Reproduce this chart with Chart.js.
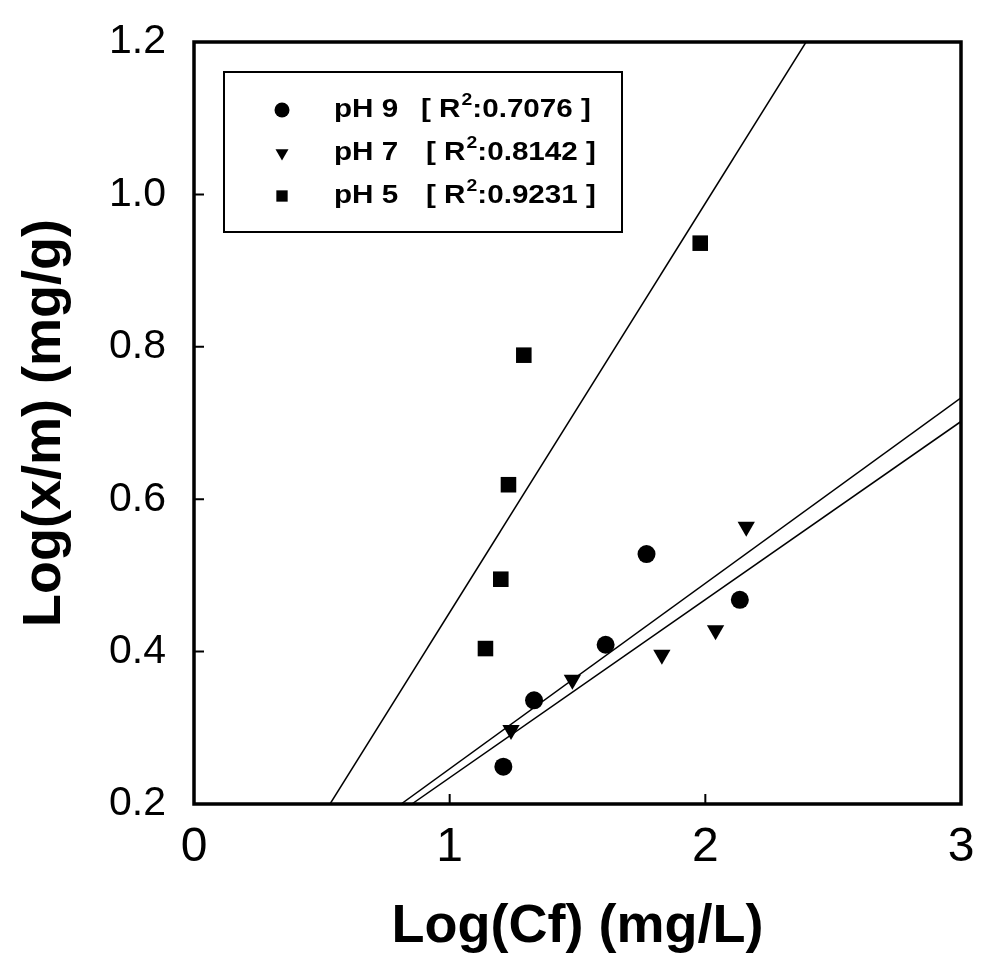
<!DOCTYPE html>
<html lang="en">
<head>
<meta charset="UTF-8">
<title>Log(x/m) vs Log(Cf)</title>
<script src="https://cdn.jsdelivr.net/npm/chart.js"></script>
<style>
  body { margin: 0; background: #fff; }
</style>
</head>
<body>
<canvas id="grafico" width="997" height="956"></canvas>
<script>
// series
const seriesNames = ['pH 9', 'pH 7', 'pH 5'];
const r2Values = ['0.7076', '0.8142', '0.9231'];

const ph9X = [1.21, 1.33, 1.61, 1.77, 2.135];
const ph9Y = [0.249, 0.336, 0.409, 0.528, 0.468];
const ph7X = [1.24, 1.48, 1.83, 2.04, 2.16];
const ph7Y = [0.297, 0.363, 0.396, 0.428, 0.564];
const ph5X = [1.14, 1.20, 1.23, 1.29, 1.98];
const ph5Y = [0.404, 0.495, 0.619, 0.789, 0.936];

// fitted lines (end points)
const fit9X = [0.81, 3];
const fit9Y = [0.2, 0.733];
const fit7X = [0.852, 3];
const fit7Y = [0.2, 0.702];
const fit5X = [0.532, 2.394];
const fit5Y = [0.2, 1.2];

const xTickValues = [0, 1, 2, 3];
const yTickValues = [0.2, 0.4, 0.6, 0.8, 1.0, 1.2];

const FONT = '"Liberation Sans", Arial, sans-serif';

function pts(xs, ys) {
  return xs.map((x, i) => ({ x: x, y: ys[i] }));
}

const estilos = ['circle', 'triangle', 'rect'];
const rotacoes = [0, 180, 0];
const raios = [9, 10, 11];

// text a bit wider than the font, like the scanned legend
function textoLargo(ctx, txt, x, y) {
  ctx.save();
  ctx.translate(x, y);
  ctx.scale(1.14, 1);
  ctx.fillText(txt, 0, 0);
  ctx.restore();
  return ctx.measureText(txt).width * 1.14;
}

// frame, inward ticks and the boxed legend
const moldura = {
  id: 'moldura',
  afterDatasetsDraw(chart) {
    const { ctx, chartArea: a, scales: { x, y } } = chart;
    ctx.save();
    ctx.strokeStyle = '#000';
    ctx.lineWidth = 2;
    ctx.beginPath();
    xTickValues.forEach(v => {
      const px = x.getPixelForValue(v);
      ctx.moveTo(px, a.bottom);
      ctx.lineTo(px, a.bottom - 10);
    });
    yTickValues.forEach(v => {
      const py = y.getPixelForValue(v);
      ctx.moveTo(a.left, py);
      ctx.lineTo(a.left + 10, py);
    });
    ctx.stroke();
    ctx.lineWidth = 3.5;
    ctx.strokeRect(a.left, a.top, a.right - a.left, a.bottom - a.top);

    // legend
    const bx = 224, by = 72, bw = 398, bh = 160;
    ctx.fillStyle = '#fff';
    ctx.fillRect(bx, by, bw, bh);
    ctx.lineWidth = 2;
    ctx.strokeRect(bx, by, bw, bh);
    ctx.fillStyle = '#000';
    ctx.textBaseline = 'middle';
    seriesNames.forEach((nome, i) => {
      const ry = 110 + i * 43;
      Chart.helpers.drawPoint(ctx, {
        pointStyle: estilos[i], rotation: rotacoes[i], radius: i === 2 ? 8 : 7.5, borderWidth: 0
      }, 282, ry);
      ctx.font = 'bold 26px ' + FONT;
      textoLargo(ctx, nome, 334, ry);
      let tx = i === 0 ? 421 : 426;
      tx += textoLargo(ctx, '[ R', tx, ry);
      ctx.font = 'bold 17px ' + FONT;
      tx += textoLargo(ctx, '2', tx + 1, ry - 10) + 1;
      ctx.font = 'bold 26px ' + FONT;
      textoLargo(ctx, ':' + r2Values[i] + ' ]', tx, ry);
    });
    ctx.restore();
  }
};

const pontos = [
  pts(ph9X, ph9Y),
  pts(ph7X, ph7Y),
  pts(ph5X, ph5Y)
].map((d, i) => ({
  label: seriesNames[i],
  data: d,
  showLine: false,
  pointStyle: estilos[i],
  rotation: rotacoes[i],
  pointRadius: raios[i],
  pointBackgroundColor: '#000',
  pointBorderWidth: 0
}));

const retas = [pts(fit9X, fit9Y), pts(fit7X, fit7Y), pts(fit5X, fit5Y)].map(d => ({
  data: d,
  showLine: true,
  borderColor: '#000',
  borderWidth: 1.5,
  pointRadius: 0,
  fill: false
}));

new Chart(document.getElementById('grafico'), {
  type: 'scatter',
  data: { datasets: retas.concat(pontos) },
  options: {
    responsive: false,
    animation: false,
    layout: { padding: { top: 42, right: 36, left: 0, bottom: 0 } },
    plugins: { legend: { display: false }, tooltip: { enabled: false } },
    scales: {
      x: {
        type: 'linear', min: 0, max: 3,
        grid: { display: false, drawTicks: false },
        border: { display: false },
        ticks: { stepSize: 1, color: '#000', padding: 20, font: { family: FONT, size: 48, lineHeight: 1 } },
        title: { display: true, text: 'Log(Cf) (mg/L)', color: '#000',
                 font: { family: FONT, size: 54, weight: 'bold', lineHeight: 1 }, padding: { top: 0, bottom: 2 } },
        afterFit(s) { s.height = 152; }
      },
      y: {
        type: 'linear', min: 0.2, max: 1.2,
        grid: { display: false, drawTicks: false },
        border: { display: false },
        ticks: { stepSize: 0.2, color: '#000', padding: 28, font: { family: FONT, size: 41, lineHeight: 0.6 },
                 callback: v => Number(v).toFixed(1) },
        title: { display: true, text: 'Log(x/m) (mg/g)', color: '#000',
                 font: { family: FONT, size: 54, weight: 'bold', lineHeight: 1 }, padding: { top: 18, bottom: 0 } },
        afterFit(s) { s.width = 194; }
      }
    }
  },
  plugins: [moldura]
});
</script>
</body>
</html>
